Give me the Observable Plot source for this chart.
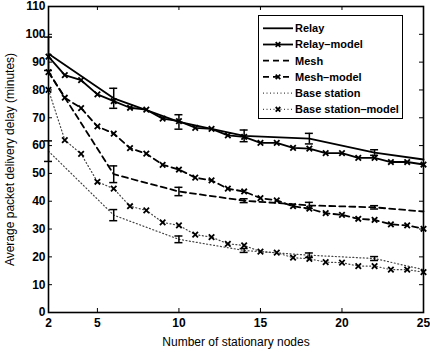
<!DOCTYPE html>
<html>
<head>
<meta charset="utf-8">
<script src="https://cdn.jsdelivr.net/npm/d3@7"></script>
<script src="https://cdn.jsdelivr.net/npm/@observablehq/plot@0.6"></script>
<style>
  body { margin: 0; background: #fff; }
  #wrap { position: relative; width: 430px; height: 355px; font-family: "Liberation Sans", Arial, sans-serif; }
  #wrap svg.plot g[aria-label$="tick label"] { font-weight: bold; }
  #legend { position: absolute; left: 258px; top: 15px; }
</style>
</head>
<body>
<div id="wrap"></div>
<script>
// ---------- data ----------
const modelNodes = [2,3,4,5,6,7,8,9,10,11,12,13,14,15,16,17,18,19,20,21,22,23,24,25];
const measNodes  = [2,6,10,14,18,22,25];

const relay      = [93, 77, 68.5, 63.5, 62.5, 57.5, 55];
const relayErr   = [6, 3.6, 2.6, 2.1, 1.9, 1.0, 0];
const relayModel = [92, 85.3, 83.5, 78.4, 76, 73.6, 72.9, 69.7, 68.8, 66.4, 66, 63.7, 63.1, 61, 61, 59.2, 58.9, 57.3, 57.3, 55.6, 55.6, 54.1, 54.1, 53.2];

const mesh       = [86.5, 49.7, 43.5, 40.2, 38.5, 37.8, 36.3];
const meshErr    = [0, 3, 1.5, 0.7, 1.1, 0.6, 0];
const meshModel  = [86.4, 77.2, 73.5, 66.9, 64.3, 59.1, 57.1, 53.1, 51.4, 48.5, 47.5, 44.5, 43.5, 41.1, 40.3, 38.2, 37.3, 35.7, 35.1, 33.7, 33.3, 31.7, 31.3, 30.1];

const base       = [58, 35, 26.3, 22.3, 20.6, 19.4, 15.4];
const baseErr    = [3.7, 2, 1.2, 0.7, 0.8, 0.7, 0];
const baseModel  = [80, 62, 57, 47, 44.5, 38.2, 36.7, 32.4, 31.3, 28, 27.1, 24.7, 24.1, 21.9, 21.5, 19.7, 19.3, 18.1, 17.9, 16.7, 16.7, 15.4, 15.4, 14.5];

const xTicks = [2, 5, 10, 15, 20, 25];
const yTicks = [0, 10, 20, 30, 40, 50, 60, 70, 80, 90, 100, 110];

const seriesNames = ["Relay", "Relay\u2013model", "Mesh", "Mesh\u2013model", "Base station", "Base station\u2013model"];

// ---------- build tables ----------
const toRows = (xs, ys) => xs.map((x, i) => ({x, y: ys[i]}));
const errRows = (xs, ys, es) => xs.map((x, i) => ({x, lo: ys[i] - es[i], hi: ys[i] + es[i], e: es[i]})).filter(d => d.e > 0);

const W = 430, H = 355, mL = 48, mR = 7, mT = 6, mB = 43;
const plotW = W - mL - mR, plotH = H - mT - mB;
const dash = "6,4", dot = "1,2.5";

const styles = [
  {rows: toRows(measNodes, relay), err: errRows(measNodes, relay, relayErr), sw: 1.8, dash: null, marker: false, color: "black"},
  {rows: toRows(modelNodes, relayModel), sw: 1.8, dash: null, marker: true, color: "black"},
  {rows: toRows(measNodes, mesh), err: errRows(measNodes, mesh, meshErr), sw: 1.8, dash: dash, marker: false, color: "black"},
  {rows: toRows(modelNodes, meshModel), sw: 1.8, dash: dash, marker: true, color: "black"},
  {rows: toRows(measNodes, base), err: errRows(measNodes, base, baseErr), sw: 1.2, dash: dot, marker: false, color: "#444"},
  {rows: toRows(modelNodes, baseModel), sw: 1.2, dash: dot, marker: true, color: "#444"}
];

const marks = [];
for (const s of styles) {
  marks.push(Plot.line(s.rows, {x: "x", y: "y", stroke: s.color, strokeWidth: s.sw, strokeDasharray: s.dash}));
  if (s.marker) marks.push(Plot.dot(s.rows, {x: "x", y: "y", symbol: "times", r: 2.6, stroke: "black", strokeWidth: 1.8}));
  if (s.err) {
    marks.push(Plot.ruleX(s.err, {x: "x", y1: "lo", y2: "hi", stroke: "black", strokeWidth: 1.5}));
    marks.push(Plot.ruleY(s.err, {y: "lo", x1: "x", x2: "x", insetLeft: -4, insetRight: -4, stroke: "black", strokeWidth: 1.5}));
    marks.push(Plot.ruleY(s.err, {y: "hi", x1: "x", x2: "x", insetLeft: -4, insetRight: -4, stroke: "black", strokeWidth: 1.5}));
  }
}

const chart = Plot.plot({
  width: W, height: H,
  marginLeft: mL, marginRight: mR, marginTop: mT, marginBottom: mB,
  style: {fontFamily: "'Liberation Sans', Arial, sans-serif", fontSize: "12px", background: "white", color: "black"},
  x: {domain: [2, 25], ticks: xTicks, tickSize: 0, tickPadding: 6, label: "Number of stationary nodes", labelAnchor: "center", labelArrow: "none", labelOffset: 33},
  y: {domain: [0, 110], ticks: yTicks, tickSize: 0, tickPadding: 3, label: "Average packet delivery delay (minutes)", labelAnchor: "center", labelArrow: "none", labelOffset: 43},
  marks: [
    // inward ticks on all four sides
    Plot.ruleX(xTicks, {x: d => d, insetTop: plotH - 4, stroke: "black"}),
    Plot.ruleX(xTicks, {x: d => d, insetBottom: plotH - 4, stroke: "black"}),
    Plot.ruleY(yTicks, {y: d => d, insetRight: plotW - 4, stroke: "black"}),
    Plot.ruleY(yTicks, {y: d => d, insetLeft: plotW - 4, stroke: "black"}),
    ...marks,
    Plot.frame({stroke: "black", strokeWidth: 1.6})
  ]
});
chart.classList.add("plot");
document.getElementById("wrap").appendChild(chart);

// ---------- legend ----------
const lw = 145, lh = 104, rowH = 16.2, firstY = 13.3;
const NS = "http://www.w3.org/2000/svg";
const leg = document.createElementNS(NS, "svg");
leg.setAttribute("id", "legend");
leg.setAttribute("width", lw);
leg.setAttribute("height", lh);
let inner = `<rect x="0.5" y="0.5" width="${lw - 1}" height="${lh - 1}" fill="white" stroke="black" stroke-width="1"/>`;
seriesNames.forEach((name, i) => {
  const s = styles[i];
  const cy = firstY + i * rowH;
  inner += `<line x1="5" x2="35" y1="${cy}" y2="${cy}" stroke="${s.color}" stroke-width="${s.sw}" ${s.dash ? `stroke-dasharray="${s.dash}"` : ""}/>`;
  if (s.marker) inner += `<path d="M${20 - 2.3},${cy - 2.3}L${20 + 2.3},${cy + 2.3}M${20 - 2.3},${cy + 2.3}L${20 + 2.3},${cy - 2.3}" stroke="black" stroke-width="1.8"/>`;
  inner += `<text x="37" y="${cy}" dy="0.35em" font-family="'Liberation Sans', Arial, sans-serif" font-size="11" font-weight="bold">${name}</text>`;
});
leg.innerHTML = inner;
document.getElementById("wrap").appendChild(leg);
</script>
</body>
</html>
